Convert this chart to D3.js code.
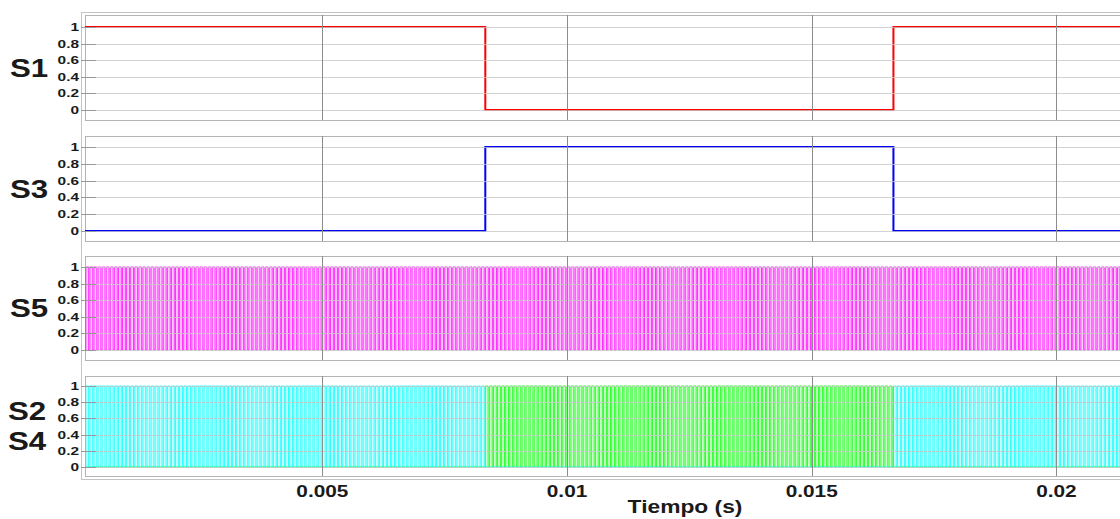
<!DOCTYPE html>
<html>
<head>
<meta charset="utf-8">
<script src="https://cdn.jsdelivr.net/npm/d3@7"></script>
<style>
  body { margin: 0; background: #fff; }
  svg { display: block; font-family: "Liberation Sans", Arial, sans-serif; font-weight: bold; }
</style>
</head>
<body>
<div id="chart"></div>
<script>
// eje de tiempo
const tStart = 0.00015, tEnd = 0.0213;
const xTicks = [0.005, 0.01, 0.015, 0.02];
const xTickLabels = ["0.005", "0.01", "0.015", "0.02"];
const yTicks = [0, 0.2, 0.4, 0.6, 0.8, 1];
const yTickLabels = ["0", "0.2", "0.4", "0.6", "0.8", "1"];

// señales de baja frecuencia: [t, valor]
const s1Steps = [[0, 1], [0.00833, 0], [0.01667, 1], [0.0213, 1]];
const s3Steps = [[0, 0], [0.00833, 1], [0.01667, 0], [0.0213, 0]];

// señales PWM: frecuencia de conmutación, ciclo de trabajo e intervalos activos
const pwmFreq = 12000;
const pwmDuty = 0.7;
const s5Active = [[0, 0.0213]];
const s4Active = [[0, 0.00833], [0.01667, 0.0213]];
const s2Active = [[0.00833, 0.01667]];

const width = 1120, height = 519;

const svg = d3.select("#chart").append("svg")
    .attr("width", width)
    .attr("height", height);

const x = d3.scaleLinear().domain([tStart, tEnd]).range([85, 1120]);

// tren de pulsos a partir de los intervalos activos
function pwmPoints(active) {
    const T = 1 / pwmFreq;
    const pts = [[0, 0]];
    active.forEach(([a, b]) => {
        for (let t = a; t < b; t += T) {
            const tf = Math.min(t + pwmDuty * T, b);
            pts.push([t, 0], [t, 1], [tf, 1], [tf, 0]);
        }
    });
    pts.push([tEnd, 0]);
    return pts;
}

function stepPoints(steps) {
    const pts = [];
    steps.forEach((d, i) => {
        if (i > 0) pts.push([d[0], steps[i - 1][1]]);
        pts.push(d);
    });
    return pts;
}

const panels = [
    { labels: ["S1"], top: 15, yOne: 27, yZero: 110, bottom: 120,
      series: [{ pts: stepPoints(s1Steps), color: "#ff0000", w: 2 }] },
    { labels: ["S3"], top: 136, yOne: 147, yZero: 231, bottom: 241,
      series: [{ pts: stepPoints(s3Steps), color: "#0000ff", w: 2 }] },
    { labels: ["S5"], top: 256, yOne: 267, yZero: 350, bottom: 360,
      series: [{ pts: pwmPoints(s5Active), color: "#ff00ff", w: 1, fill: true }] },
    { labels: ["S2", "S4"], top: 376, yOne: 386, yZero: 467, bottom: 476,
      series: [{ pts: pwmPoints(s2Active), color: "#00ff00", w: 1, fill: true },
               { pts: pwmPoints(s4Active), color: "#00ffff", w: 1, fill: true }] }
];

// marco exterior
svg.append("rect")
    .attr("x", 81.5).attr("y", 12.5)
    .attr("width", 1060).attr("height", 467)
    .attr("fill", "none")
    .attr("stroke", "#c4c4c4");

svg.append("defs").append("clipPath").attr("id", "plotClip")
    .append("rect").attr("x", 85).attr("y", 0).attr("width", 1035).attr("height", height);

function scaledText(g, tx, ty, sx, size, anchor, txt) {
    g.append("g")
        .attr("transform", `translate(${tx},${ty}) scale(${sx},1)`)
        .append("text")
        .attr("text-anchor", anchor)
        .attr("font-size", size)
        .attr("fill", "#1a1a1a")
        .text(txt);
}

panels.forEach(p => {
    const y = d3.scaleLinear().domain([0, 1]).range([p.yZero, p.yOne]);
    const g = svg.append("g");

    g.append("rect")
        .attr("x", 85.5).attr("y", p.top + 0.5)
        .attr("width", 1050).attr("height", p.bottom - p.top)
        .attr("fill", "#fff")
        .attr("stroke", "#b4b4b4");

    const line = d3.line()
        .x(d => x(d[0]))
        .y(d => y(d[1]));
    const area = d3.area()
        .x(d => x(d[0]))
        .y0(y(0))
        .y1(d => y(d[1]));

    const plot = g.append("g").attr("clip-path", "url(#plotClip)");
    p.series.filter(s => s.fill).forEach(s => {
        plot.append("path")
            .attr("d", area(s.pts))
            .attr("fill", s.color)
            .attr("fill-opacity", 0.2)
            .attr("stroke", "none");
    });

    // rejilla horizontal
    g.selectAll(".hgrid")
        .data(yTicks)
        .enter().append("line")
        .attr("x1", 86).attr("x2", 1120)
        .attr("y1", d => Math.round(y(d)) + 0.5)
        .attr("y2", d => Math.round(y(d)) + 0.5)
        .attr("stroke", "#c8c8c8")
        .attr("stroke-opacity", 0.8);

    g.selectAll(".tick")
        .data(yTicks)
        .enter().append("line")
        .attr("x1", 81).attr("x2", 96)
        .attr("y1", d => Math.round(y(d)) + 0.5)
        .attr("y2", d => Math.round(y(d)) + 0.5)
        .attr("stroke", "#9a9a9a");

    // rejilla vertical
    g.selectAll(".vgrid")
        .data(xTicks)
        .enter().append("line")
        .attr("x1", d => Math.round(x(d)) + 0.5)
        .attr("x2", d => Math.round(x(d)) + 0.5)
        .attr("y1", p.top).attr("y2", p.bottom)
        .attr("stroke", "#8c8c8c");

    yTicks.forEach((d, i) => {
        scaledText(g, 79, y(d) + 4, 1.4, 11, "end", yTickLabels[i]);
    });

    p.series.forEach(s => {
        plot.append("path")
            .attr("d", line(s.pts))
            .attr("fill", "none")
            .attr("stroke", s.color)
            .attr("stroke-width", s.w)
            .attr("stroke-opacity", s.fill ? 0.8 : 1);
    });

    const mid = (p.top + p.bottom) / 2;
    if (p.labels.length === 1) {
        scaledText(g, 10, mid + 9, 1.25, 25, "start", p.labels[0]);
    } else {
        scaledText(g, 8, mid - 6, 1.25, 25, "start", p.labels[0]);
        scaledText(g, 8, mid + 24, 1.25, 25, "start", p.labels[1]);
    }
});

// eje x
xTicks.forEach((d, i) => {
    scaledText(svg, x(d), 497, 1.3, 16, "middle", xTickLabels[i]);
});
scaledText(svg, 685, 513, 1.2, 19, "middle", "Tiempo (s)");
</script>
</body>
</html>
